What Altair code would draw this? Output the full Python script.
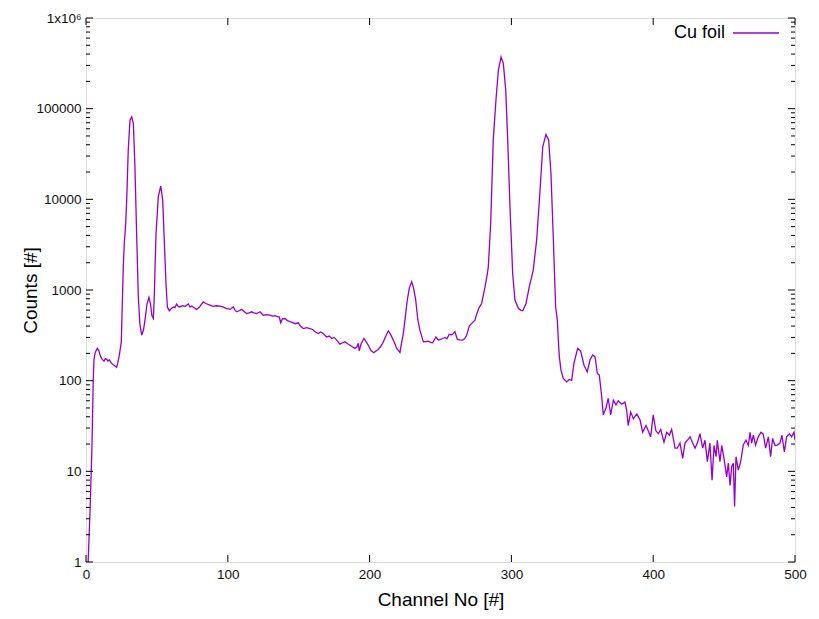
import altair as alt
import pandas as pd

channel = [1.5, 2.8, 4.2, 5.1, 5.6, 6.5, 8.0, 9.0, 10.4, 11.5, 12.7, 13.6, 14.6, 15.5, 16.4, 17.2, 18.1, 19.3,
           20.5, 21.6, 22.5, 23.5, 24.9, 25.6, 26.3, 27.0, 27.5, 28.0, 28.7, 29.8, 31.0, 32.2, 33.4, 34.5, 35.7,
           36.9, 38.0, 39.3, 40.5, 41.6, 43.0, 44.4, 45.5, 46.5, 47.5, 48.2, 48.7, 49.4, 51.0, 52.7, 54.1, 55.0,
           56.4, 57.4, 58.8, 60.0, 61.6, 62.7, 63.9, 65.0, 66.2, 68.0, 70.0, 72.2, 73.3, 74.5, 76.0, 78.0, 80.0,
           82.7, 84.5, 87.4, 89.5, 92.0, 94.5, 96.5, 99.2, 101.6, 103.9, 105.0, 106.3, 108.0, 109.8, 111.5, 113.3,
           115.0, 116.8, 118.5, 120.4, 122.7, 125.0, 127.5, 129.8, 131.5, 133.3, 135.0, 136.3, 137.3, 138.5,
           140.3, 142.0, 143.9, 145.5, 147.4, 149.7, 151.5, 153.3, 155.5, 158.0, 160.0, 161.5, 163.8, 165.5,
           167.3, 169.7, 171.5, 173.3, 175.0, 176.8, 179.1, 181.0, 182.6, 184.5, 186.2, 188.0, 189.7, 191.0,
           192.0, 192.7, 194.0, 196.0, 197.5, 199.1, 201.0, 203.0, 204.5, 206.1, 207.5, 209.2, 211.0, 213.2,
           215.0, 216.7, 218.0, 219.1, 221.4, 222.5, 223.8, 225.0, 226.6, 228.0, 229.7, 231.0, 232.5, 234.0,
           235.5, 237.9, 241.4, 243.0, 244.5, 246.8, 248.0, 249.2, 251.0, 253.2, 254.5, 256.2, 258.0, 260.2,
           261.9, 263.5, 265.6, 267.0, 268.5, 270.3, 271.5, 273.1, 274.3, 275.5, 277.0, 279.0, 281.4, 283.0,
           283.7, 285.4, 287.2, 289.1, 290.8, 292.7, 294.3, 296.0, 297.4, 299.0, 300.9, 302.5, 304.9, 306.5,
           308.0, 310.3, 312.6, 315.4, 317.8, 320.2, 322.1, 324.4, 326.3, 327.9, 329.6, 331.2, 332.4, 333.1,
           333.8, 335.0, 336.6, 339.0, 340.8, 342.5, 344.1, 346.7, 348.8, 351.2, 353.5, 355.4, 357.3, 359.0,
           360.6, 362.0, 363.7, 364.8, 366.7, 368.3, 370.0, 371.9, 373.8, 375.4, 377.8, 380.1, 381.3, 382.4,
           384.1, 386.0, 388.4, 390.7, 392.6, 394.9, 396.5, 398.2, 400.0, 401.9, 403.6, 405.3, 407.6, 409.5,
           411.4, 413.0, 415.4, 417.0, 418.9, 420.8, 422.4, 424.1, 426.0, 427.8, 429.5, 431.1, 433.0, 434.9,
           436.5, 438.2, 440.0, 441.5, 442.9, 444.3, 445.2, 447.1, 448.3, 449.9, 451.8, 453.0, 454.2, 455.4,
           456.5, 457.4, 458.4, 460.0, 461.7, 463.5, 465.4, 467.1, 468.3, 469.4, 470.6, 472.2, 474.1, 476.0,
           477.6, 479.3, 481.2, 482.8, 484.2, 485.9, 487.5, 489.4, 490.8, 492.5, 494.1, 496.0, 497.6, 499.3, 500.0]

counts = [1, 3.5, 18.7, 100, 170, 205, 227, 215, 183, 172, 164, 175, 172, 165, 170, 162, 155, 150,
          145, 140, 160, 191, 268, 700, 1800, 3300, 4200, 5500, 9800, 35000, 74000, 81000, 69000, 23000, 4200,
          840, 420, 318, 360, 465, 700, 830, 700, 520, 486, 900, 1800, 4200, 10700, 14000, 9800, 4200,
          1180, 650, 590, 620, 650, 640, 700, 660, 650, 670, 660, 700, 650, 665, 640, 611, 650,
          740, 710, 680, 660, 670, 665, 650, 625, 611, 650, 600, 575, 590, 611, 580, 550,
          560, 575, 560, 550, 575, 527, 535, 527, 515, 520, 510, 505, 435, 480,
          485, 460, 448, 440, 425, 435, 395, 376, 385, 376, 365, 346, 331, 345,
          331, 303, 310, 292, 300, 280, 253, 262, 268, 255, 246, 235, 227, 235,
          258, 213, 255, 292, 270, 246, 215, 203, 212, 221, 235, 258, 300, 355,
          320, 280, 250, 227, 205, 260, 331, 480, 775, 1050, 1230, 1050, 780, 470,
          360, 268, 272, 265, 262, 303, 285, 280, 290, 300, 290, 325, 320, 346,
          285, 282, 280, 290, 318, 400, 420, 445, 465, 540, 628, 710, 1080, 1500,
          1800, 5400, 45000, 124000, 265000, 372000, 316000, 160000, 45000, 8300, 1520, 775, 628, 600,
          590, 710, 1080, 1660, 3550, 12600, 38000, 52000, 45000, 19300, 3550, 650, 465, 280,
          183, 130, 106, 97, 103, 101, 155, 227, 213, 148, 125, 169, 192, 183,
          120, 115, 66, 42, 50, 64, 42, 61, 54, 60, 55, 58, 47, 32,
          45, 38, 43, 37, 27, 32, 28, 24, 42, 28, 26, 29, 21, 27,
          25, 29, 18, 18, 20.5, 13.9, 20.5, 22, 24, 20.5, 18, 20.5, 26, 18,
          22, 12.8, 20.5, 8, 19.3, 14.5, 22, 12.8, 19.3, 14, 8.7, 12.3, 7, 11.3,
          12.3, 4.1, 14.5, 10.3, 12.8, 19.5, 22, 19.3, 27, 20.5, 25, 19.5, 24, 27,
          25.7, 18, 24, 14.5, 23, 19.3, 19.5, 20.5, 25, 16.4, 24, 26, 24, 27, 22]

x_ticks = [0, 100, 200, 300, 400, 500]
y_major = [1, 10, 100, 1000, 10000, 100000, 1000000]
y_minor = [k * 10 ** d for d in range(6) for k in range(2, 10)]
series_name = "Cu foil"

W, H = 709, 544
COLOR = "#9400D3"
FONT = "Liberation Sans"

df = pd.DataFrame({"ch": channel, "cnt": counts})

xscale = alt.Scale(domain=[0, 500], nice=False, zero=False)
yscale = alt.Scale(type="log", domain=[1, 1000000], nice=False)

line = alt.Chart(df).mark_line(color=COLOR, strokeWidth=1.3, clip=True).encode(
    x=alt.X("ch:Q", scale=xscale, axis=alt.Axis(
        values=x_ticks, title="Channel No [#]", tickSize=0, domain=False, grid=False,
        labelFlush=False,
        labelFont=FONT, labelFontSize=13.5, labelColor="#111", labelPadding=5,
        titleFont=FONT, titleFontSize=19, titleFontWeight="normal", titleColor="black",
        titleY=37, titleBaseline="middle")),
    y=alt.Y("cnt:Q", scale=yscale, axis=alt.Axis(
        values=y_major, title="Counts [#]", tickSize=0, domain=False, grid=False,
        labelFlush=False,
        labelExpr="datum.value >= 1000000 ? '1x10⁶' : format(datum.value, 'd')",
        labelFont=FONT, labelFontSize=13.5, labelColor="#111", labelPadding=5,
        titleFont=FONT, titleFontSize=19, titleFontWeight="normal", titleColor="black",
        titleX=-56, titleY=272, titleAngle=-90, titleAlign="center", titleBaseline="middle")),
)

ymaj = pd.DataFrame({"v": y_major})
ymin = pd.DataFrame({"v": y_minor})
xt = pd.DataFrame({"v": x_ticks})

def yticks(data, length):
    left = alt.Chart(data).mark_rule(color="black", strokeWidth=1).encode(
        y=alt.Y("v:Q", scale=yscale), x=alt.value(0), x2=alt.value(length))
    right = alt.Chart(data).mark_rule(color="black", strokeWidth=1).encode(
        y=alt.Y("v:Q", scale=yscale), x=alt.value(W), x2=alt.value(W - length))
    return left + right

xb = alt.Chart(xt).mark_rule(color="black", strokeWidth=1).encode(
    x=alt.X("v:Q", scale=xscale), y=alt.value(H), y2=alt.value(H - 7))
xtop = alt.Chart(xt).mark_rule(color="black", strokeWidth=1).encode(
    x=alt.X("v:Q", scale=xscale), y=alt.value(0), y2=alt.value(7))

leg = pd.DataFrame({"name": [series_name]})
leg_text = alt.Chart(leg).mark_text(align="right", baseline="middle", font=FONT, fontSize=18,
                                     color="black").encode(
    text="name:N", x=alt.value(639), y=alt.value(15))
leg_line = alt.Chart(leg).mark_rule(color=COLOR, strokeWidth=1.3).encode(
    x=alt.value(647), x2=alt.value(693), y=alt.value(15))

chart = alt.layer(
    line, yticks(ymaj, 7), yticks(ymin, 4), xb, xtop, leg_text, leg_line
).properties(
    width=W, height=H,
    autosize=alt.AutoSizeParams(type="none"),
    padding={"left": 86, "top": 18, "right": 24, "bottom": 57},
).configure_view(stroke="black", strokeWidth=1.5).configure(background="white")

chart.save("out.html", embed_options={"renderer": "svg", "actions": False})
